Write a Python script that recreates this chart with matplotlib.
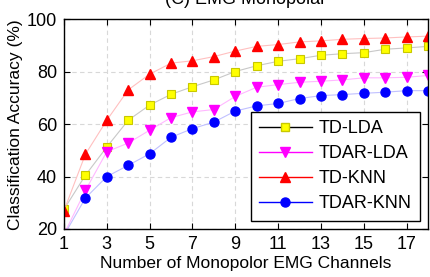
import matplotlib
matplotlib.use('Agg')
import matplotlib.pyplot as plt
from matplotlib.lines import Line2D

plt.rcParams['font.family'] = ['Liberation Sans', 'DejaVu Sans']

# 通道数
channels = list(range(1, 19))

# 各方法的分类准确率 (%)
td_lda = [27.5, 40.5, 51.3, 61.5, 67.3, 71.4, 74.3, 76.9, 80.1, 82.3,
          84.0, 85.0, 86.3, 86.9, 87.3, 88.6, 89.1, 89.7]
tdar_lda = [18.0, 34.7, 49.5, 52.8, 57.7, 62.5, 64.7, 65.6, 70.6, 74.1,
            75.1, 76.0, 76.4, 76.9, 77.7, 77.7, 77.9, 78.6]
td_knn = [27.0, 48.5, 61.5, 73.1, 79.1, 83.3, 84.2, 85.8, 87.9, 89.7,
          90.4, 91.4, 91.8, 92.4, 92.7, 92.9, 93.3, 93.6]
tdar_knn = [17.6, 31.8, 40.0, 44.3, 48.7, 55.0, 58.3, 60.8, 65.0, 67.0,
            67.9, 69.8, 70.9, 71.3, 71.8, 72.2, 72.8, 72.8]

labels = ['TD-LDA', 'TDAR-LDA', 'TD-KNN', 'TDAR-KNN']
xticks = [1, 3, 5, 7, 9, 11, 13, 15, 17]
yticks = [20, 40, 60, 80, 100]

fig = plt.figure(figsize=(4.3, 2.77), dpi=100)
ax = fig.add_axes([0.1488, 0.1733, 0.8465, 0.7567])

# 数据线(浅色) + 标记
ax.plot(channels, td_lda, '-', color='#c8c8c8', lw=0.8, marker='s', ms=6,
        mfc='#ffff00', mec='#c8c800', mew=0.8)
ax.plot(channels, tdar_lda, '-', color='#ffb8ff', lw=0.8, marker='v', ms=6.5,
        mfc='#ff00ff', mec='#ff00ff')
ax.plot(channels, td_knn, '-', color='#ffc0c0', lw=0.8, marker='^', ms=6.5,
        mfc='#ff0000', mec='#ff0000')
ax.plot(channels, tdar_knn, '-', color='#c0c0ff', lw=0.8, marker='o', ms=6.5,
        mfc='#0000ff', mec='#0000ff')

ax.set_xlim(1, 18)
ax.set_ylim(20, 100)
ax.set_xticks(xticks)
ax.set_yticks(yticks)
ax.tick_params(direction='in', top=True, right=True, labelsize=13, length=4,
               width=0.8, pad=5)
ax.grid(True, linestyle=(0, (4, 3)), color='#d8d8d8', lw=0.8)
for s in ax.spines.values():
    s.set_linewidth(1.0)

ax.set_xlabel('Number of Monopolor EMG Channels', fontsize=12.5, labelpad=2)
ax.set_ylabel('Classification Accuracy (%)', fontsize=12.5, labelpad=3)
ax.set_title('(C) EMG Monopolar', fontsize=13, pad=11)

# 图例用深色线条
handles = [
    Line2D([], [], color='black', lw=1, marker='s', ms=6, mfc='#ffff00', mec='#c8c800'),
    Line2D([], [], color='#ff00ff', lw=1, marker='v', ms=6.5, mfc='#ff00ff', mec='#ff00ff'),
    Line2D([], [], color='#ff0000', lw=1, marker='^', ms=6.5, mfc='#ff0000', mec='#ff0000'),
    Line2D([], [], color='#0000ff', lw=1, marker='o', ms=6.5, mfc='#0000ff', mec='#0000ff'),
]
leg = ax.legend(handles, labels, loc='lower right', bbox_to_anchor=(0.978, 0.04),
                fontsize=13, handlelength=2.9, handletextpad=0.4,
                labelspacing=0.45, borderpad=0.45, borderaxespad=0,
                fancybox=False, framealpha=1, edgecolor='black')
leg.get_frame().set_linewidth(1.0)

fig.savefig('out.png', dpi=100)
